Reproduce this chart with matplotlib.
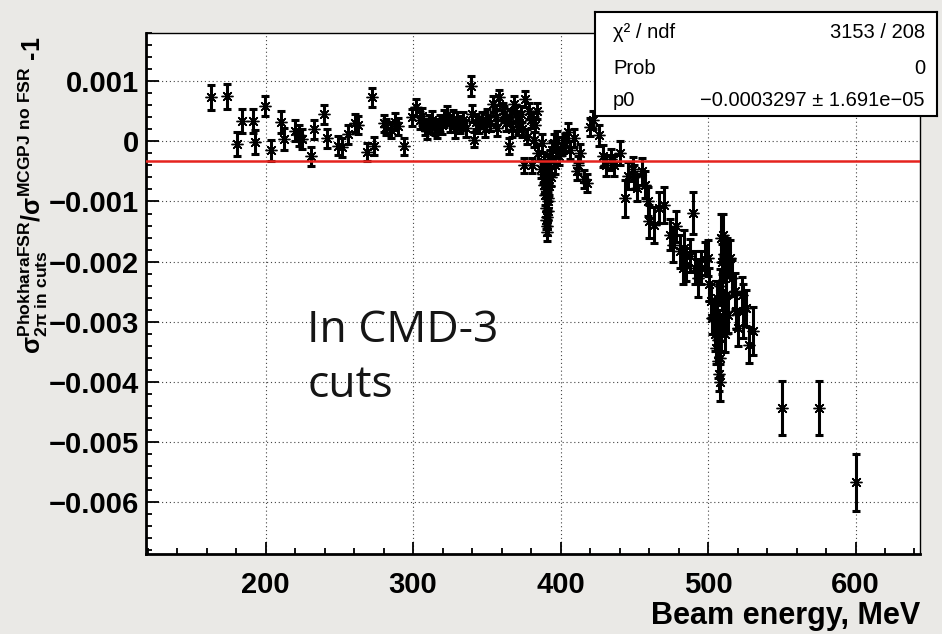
import numpy as np
import matplotlib

matplotlib.use("Agg")
import matplotlib.pyplot as plt
from matplotlib.ticker import FuncFormatter, MultipleLocator

# beam energy (MeV), cross-section ratio - 1 and its error, both in units of 1e-3
low_energy = [162.7, 174.0, 180.7, 184.1, 191.3, 193.1, 199.9, 204.0, 210.8, 212.3, 220.3,
              222.5, 224.8, 231.0, 232.6, 239.4, 242.0, 249.0, 252.0, 256.0, 260.7, 263.0,
              269.0, 272.0, 273.5, 280.0, 282.0, 285.0, 287.5, 290.0, 294.0, 299.0]
low_ratio = [0.73, 0.75, -0.04, 0.34, 0.34, -0.01, 0.59, -0.15, 0.32, 0.04, 0.18,
             0.10, 0.04, -0.25, 0.20, 0.45, 0.05, -0.07, -0.10, 0.12, 0.30, 0.28,
             -0.18, 0.73, -0.07, 0.30, 0.24, 0.19, 0.33, 0.25, -0.08, 0.40]
low_err = [0.21, 0.21, 0.20, 0.20, 0.20, 0.20, 0.17, 0.18, 0.18, 0.18, 0.17,
           0.17, 0.17, 0.16, 0.16, 0.16, 0.16, 0.16, 0.16, 0.16, 0.15, 0.15,
           0.15, 0.16, 0.15, 0.14, 0.14, 0.14, 0.14, 0.14, 0.14, 0.14]

rho_energy = [302.0, 304.5, 306.0, 308.0, 309.5, 311.0, 313.0, 314.6, 316.0, 318.0, 319.5,
              321.0, 323.0, 325.0, 327.0, 328.5, 330.0, 332.0, 334.0, 336.0, 339.0, 340.0,
              341.6, 343.0, 345.0, 347.0, 348.5, 350.5, 352.0, 354.0, 356.0, 357.0, 358.0,
              360.7, 362.0, 363.0, 365.0, 366.0, 367.0, 368.5, 369.5, 371.0, 372.0, 373.0,
              374.0, 375.0, 376.0, 377.5, 378.5, 380.0, 381.0, 382.0, 383.0, 384.0, 385.0]
rho_ratio = [0.57, 0.35, 0.42, 0.24, 0.18, 0.30, 0.36, 0.24, 0.20, 0.30, 0.27,
             0.38, 0.44, 0.30, 0.38, 0.20, 0.35, 0.28, 0.35, 0.22, 0.92, 0.46,
             0.03, 0.33, 0.27, 0.35, 0.20, 0.40, 0.30, 0.62, 0.40, 0.22, 0.73,
             0.51, 0.45, 0.30, -0.08, 0.40, 0.20, 0.62, 0.45, 0.24, 0.30, 0.46,
             0.20, -0.40, 0.70, 0.08, 0.50, 0.35, -0.40, 0.03, 0.28, 0.50, -0.19]
rho_err = [0.14] * 20 + [0.16, 0.14] + [0.13] * 33

omega_energy = [386.5, 387.6, 388.3, 388.8, 389.0, 389.5, 389.8, 390.0, 390.3, 390.5, 390.6,
                390.9, 391.0, 391.2, 391.5, 391.8, 392.0, 392.3, 392.5, 393.0, 393.5, 394.0,
                395.5, 396.6, 397.8, 399.0, 401.0, 403.0, 405.0, 406.7, 409.0, 411.0,
                412.0, 413.5, 415.7, 418.0, 420.0, 422.0]
omega_ratio = [-0.46, -0.03, -0.55, -0.35, -0.73, -0.90, -0.60, -1.10, -1.30, -0.80, -1.50,
               -1.25, -1.40, -1.00, -0.95, -1.15, -0.57, -0.40, -0.75, -0.30, -0.60, -0.14,
               -0.03, -0.40, 0.03, -0.24, -0.08, -0.03, 0.15, -0.14, 0.05, -0.50,
               -0.40, -0.20, -0.62, -0.70, 0.24, 0.35]
omega_err = [0.15] * 38

mid_energy = [426.0, 429.0, 431.0, 434.0, 436.0, 440.0, 444.0, 446.0, 449.0, 450.0, 452.0,
              455.0, 457.0, 459.0, 460.0, 463.6, 467.0, 470.5, 474.0, 476.0, 478.0, 481.0,
              483.0, 484.0, 485.0, 488.0, 490.0, 491.0, 493.0, 495.5, 498.0]
mid_ratio = [0.10, -0.24, -0.40, -0.30, -0.40, -0.19, -0.95, -0.57, -0.46, -0.60, -0.78,
             -0.50, -0.72, -1.00, -1.33, -1.39, -1.10, -1.06, -1.55, -1.72, -1.41, -1.83,
             -2.10, -1.77, -2.05, -1.90, -1.19, -2.10, -2.27, -2.10, -1.95]
mid_err = [0.18, 0.18, 0.18, 0.18, 0.18, 0.20, 0.30, 0.22, 0.20, 0.20, 0.22,
           0.22, 0.22, 0.24, 0.28, 0.30, 0.26, 0.30, 0.26, 0.28, 0.26, 0.28,
           0.28, 0.30, 0.28, 0.28, 0.35, 0.28, 0.32, 0.28, 0.28]

phi_energy = [500.0, 501.0, 502.0, 503.0, 504.5, 505.0, 505.7, 506.0, 506.3, 506.8, 507.0,
              507.5, 507.8, 508.0, 508.3, 508.5, 509.0, 509.2, 509.5, 510.0, 510.5, 511.0,
              511.5, 512.0, 512.5, 513.0, 513.6, 515.0, 516.0, 518.0, 519.0, 520.5,
              523.0, 524.0, 526.0, 528.0, 530.7]
phi_ratio = [-1.94, -2.38, -2.66, -2.93, -3.21, -2.90, -3.43, -2.60, -3.00, -3.30, -3.65,
             -3.87, -2.40, -4.01, -3.60, -3.20, -1.60, -2.00, -2.50, -1.55, -2.90, -1.88,
             -3.20, -2.22, -2.55, -1.90, -2.88, -1.94, -2.27, -2.49, -2.82, -3.10,
             -2.55, -2.82, -2.77, -3.38, -3.15]
phi_err = [0.30, 0.28, 0.28, 0.28, 0.28, 0.28, 0.28, 0.28, 0.28, 0.28, 0.28,
           0.28, 0.28, 0.30, 0.28, 0.28, 0.40, 0.30, 0.30, 0.35, 0.30, 0.30,
           0.30, 0.30, 0.30, 0.30, 0.30, 0.30, 0.30, 0.30, 0.30, 0.30,
           0.30, 0.45, 0.30, 0.30, 0.40]

high_energy = [550.0, 575.0, 600.0]
high_ratio = [-4.43, -4.43, -5.67]
high_err = [0.45, 0.45, 0.47]

# pol0 fit result
fit_p0 = -0.0003297
fit_p0_err = 1.691e-05
fit_chi2 = 3153
fit_ndf = 208
fit_prob = 0

energy = np.concatenate([low_energy, rho_energy, omega_energy, mid_energy, phi_energy, high_energy])
ratio = 1e-3 * np.concatenate([low_ratio, rho_ratio, omega_ratio, mid_ratio, phi_ratio, high_ratio])
ratio_err = 1e-3 * np.concatenate([low_err, rho_err, omega_err, mid_err, phi_err, high_err])

W, H = 942, 634
plt.rcParams["font.family"] = ["Liberation Sans", "DejaVu Sans"]
plt.rcParams["mathtext.fontset"] = "custom"
plt.rcParams["mathtext.rm"] = "Liberation Sans:bold"
plt.rcParams["mathtext.it"] = "Liberation Sans:bold"
plt.rcParams["mathtext.bf"] = "Liberation Sans:bold"

fig = plt.figure(figsize=(W / 100, H / 100), dpi=100, facecolor="#eae9e6")
ax = fig.add_axes([146 / W, 1 - 554 / H, (920 - 146) / W, (554 - 33) / H])
ax.set_facecolor("white")

# TGraph-style autorange: 10% margin around the points and their errors
xlo, xhi = energy.min(), energy.max()
ax.set_xlim(xlo - 0.1 * (xhi - xlo), xhi + 0.1 * (xhi - xlo))
ylo, yhi = (ratio - ratio_err).min(), (ratio + ratio_err).max()
ax.set_ylim(ylo - 0.1 * (yhi - ylo), yhi + 0.1 * (yhi - ylo))

ax.grid(True, which="major", color="#444444", linestyle=(0, (1, 2.5)), linewidth=0.8, zorder=1)
ax.errorbar(energy, ratio, yerr=ratio_err, fmt="none", ecolor="black",
            elinewidth=2.2, capsize=3, capthick=2.2, zorder=3)
ax.plot(energy, ratio, linestyle="none", marker=(8, 2, 0), markersize=8.5,
        markeredgewidth=1.0, color="black", zorder=3)
ax.axhline(fit_p0, color="#e5231e", linewidth=1.8, zorder=4)

ax.xaxis.set_major_locator(MultipleLocator(100))
ax.xaxis.set_minor_locator(MultipleLocator(20))
ax.yaxis.set_major_locator(MultipleLocator(0.001))
ax.yaxis.set_minor_locator(MultipleLocator(0.0002))


def y_label(v, pos):
    if abs(v) < 1e-9:
        return "0"
    return f"{v:.3f}".replace("-", "\u2212")


ax.yaxis.set_major_formatter(FuncFormatter(y_label))
ax.tick_params(which="both", direction="in", top=False, right=False, width=1.3)
ax.tick_params(which="major", length=9, labelsize=21)
ax.tick_params(axis="y", which="major", pad=5)
ax.tick_params(axis="x", which="major", pad=12)
ax.tick_params(which="minor", length=4.5)
for lab in ax.get_xticklabels() + ax.get_yticklabels():
    lab.set_fontweight("bold")
for side in ("left", "bottom"):
    ax.spines[side].set_linewidth(2)
for side in ("top", "right"):
    ax.spines[side].set_linewidth(1)

fig.text(920 / W, 1 - 616 / H, "Beam energy, MeV", ha="right", va="center",
         fontsize=22, fontweight="bold")
fig.text(33 / W, 1 - 37 / H,
         r"$\mathrm{σ}^{\mathrm{PhokharaFSR}}_{\mathrm{2π\ in\ cuts}}/\mathrm{σ}^{\mathrm{MCGPJ\ no\ FSR}}$ -1",
         rotation=90, ha="center", va="top", fontsize=18, fontweight="bold")

fig.text(307 / W, 1 - 342 / H, "In CMD-3", fontsize=32, family="Open Sans",
         color="#151515", va="baseline")
fig.text(307 / W, 1 - 397 / H, "cuts", fontsize=32, family="Open Sans",
         color="#151515", va="baseline")

# fit statistics box
box = fig.add_axes([595 / W, 1 - 116 / H, (937 - 595) / W, (116 - 12) / H])
box.set_xticks([])
box.set_yticks([])
box.set_facecolor("white")
for sp in box.spines.values():
    sp.set_linewidth(1.5)
rows = [
    ("\u03c7\u00b2 / ndf", f"{fit_chi2} / {fit_ndf}"),
    ("Prob", f"{fit_prob}"),
    ("p0", f"{fit_p0:.7f} \u00b1 {fit_p0_err:.3e}".replace("-", "\u2212")),
]
row_y = [32, 68, 100]
for (left, right), yy in zip(rows, row_y):
    fy = (116 - yy) / (116 - 12)
    box.text((613 - 595) / (937 - 595), fy, left, ha="left", va="center", fontsize=14.5)
    box.text((925 - 595) / (937 - 595), fy, right, ha="right", va="center", fontsize=14.5)

fig.savefig("out.png", dpi=100, facecolor=fig.get_facecolor())
